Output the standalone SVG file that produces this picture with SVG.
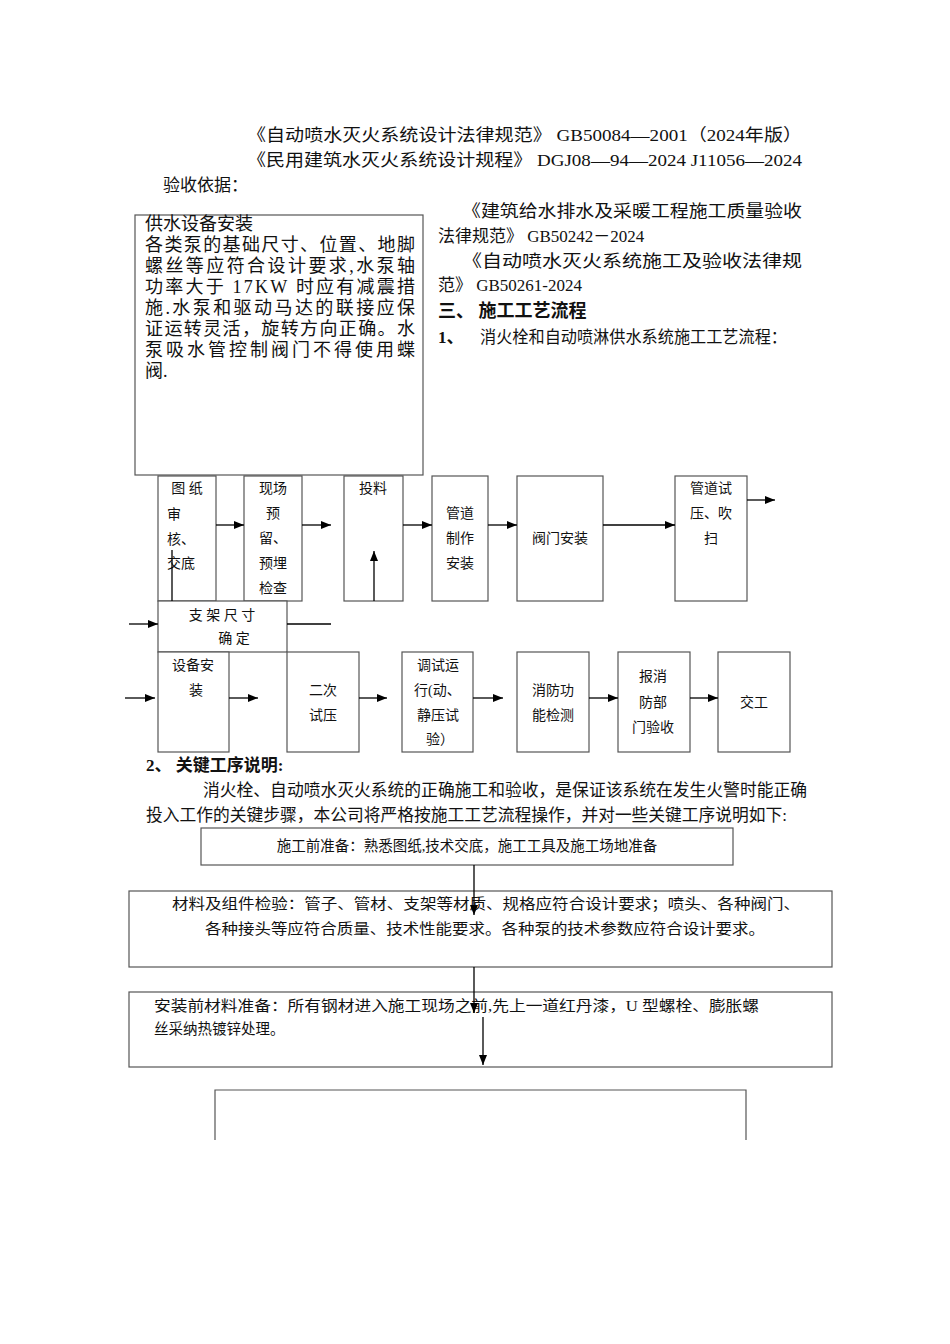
<svg xmlns="http://www.w3.org/2000/svg" width="950" height="1344" viewBox="0 0 950 1344">
<defs>
<marker id="ah" markerWidth="10" markerHeight="8" refX="10" refY="4" orient="auto" markerUnits="userSpaceOnUse"><path d="M0,0 L10,4 L0,8 z" fill="#000"/></marker>
<style>
text{font-family:"Liberation Serif","Noto Sans CJK SC",serif;fill:#111;dominant-baseline:central}
.t{font-size:17px}
.b{font-size:18px}
.s{font-size:14px}
.m{font-size:14.5px}
.bold{font-weight:bold}
.c{text-anchor:middle}
.box{fill:#fff;stroke:#555;stroke-width:1.2}
.ln{stroke:#000;stroke-width:1.3;fill:none}
.ar{stroke:#000;stroke-width:1.3;fill:none;marker-end:url(#ah)}
</style>
</defs>
<rect width="950" height="1344" fill="#fff"/>
<g id="header">
<text class="t" x="247" y="135" textLength="555" lengthAdjust="spacingAndGlyphs">《自动喷水灭火系统设计法律规范》 GB50084—2001（2024年版）</text>
<text class="t" x="247" y="160" textLength="555" lengthAdjust="spacingAndGlyphs">《民用建筑水灭火系统设计规程》 DGJ08—94—2024 J11056—2024</text>
<text class="t" x="163" y="185">验收依据：</text>
<text class="t" x="462" y="211" textLength="340" lengthAdjust="spacingAndGlyphs">《建筑给水排水及采暖工程施工质量验收</text>
<text class="t" x="438" y="236">法律规范》 GB50242－2024</text>
<text class="t" x="462" y="261" textLength="340" lengthAdjust="spacingAndGlyphs">《自动喷水灭火系统施工及验收法律规</text>
<text class="t" x="438" y="285">范》 GB50261-2024</text>
<text class="b bold" x="438" y="311">三、 施工工艺流程</text>
<text class="t bold" x="438" y="337">1、</text>
<text class="t" x="480" y="337" textLength="307" lengthAdjust="spacingAndGlyphs">消火栓和自动喷淋供水系统施工工艺流程：</text>
</g>
<g id="n_supply">
<rect class="box" x="135" y="215" width="288" height="260"/>
<text class="b" x="145" y="224">供水设备安装</text>
<text class="b" x="145" y="245" textLength="270" lengthAdjust="spacing">各类泵的基础尺寸、位置、地脚</text>
<text class="b" x="145" y="266" textLength="270" lengthAdjust="spacing">螺丝等应符合设计要求,水泵轴</text>
<text class="b" x="145" y="287" textLength="270" lengthAdjust="spacing">功率大于 17KW 时应有减震措</text>
<text class="b" x="145" y="308" textLength="270" lengthAdjust="spacing">施.水泵和驱动马达的联接应保</text>
<text class="b" x="145" y="329" textLength="270" lengthAdjust="spacing">证运转灵活，旋转方向正确。水</text>
<text class="b" x="145" y="350" textLength="270" lengthAdjust="spacing">泵吸水管控制阀门不得使用蝶</text>
<text class="b" x="145" y="371">阀.</text>
</g>
<g id="n_tuzhi">
<rect class="box" x="158" y="476" width="58" height="125"/>
<text class="s c" x="187" y="488">图 纸</text>
<text class="s" x="167" y="514">审</text>
<text class="s" x="167" y="539">核、</text>
<text class="s" x="167" y="563">交底</text>
</g>
<g id="n_xianchang">
<rect class="box" x="244" y="476" width="58" height="125"/>
<text class="s c" x="273" y="488">现场</text>
<text class="s c" x="273" y="513">预</text>
<text class="s c" x="273" y="538">留、</text>
<text class="s c" x="273" y="563">预埋</text>
<text class="s c" x="273" y="588">检查</text>
</g>
<g id="n_touliao">
<rect class="box" x="344" y="476" width="59" height="125"/>
<text class="s c" x="373" y="488">投料</text>
</g>
<g id="n_guandao">
<rect class="box" x="432" y="476" width="56" height="125"/>
<text class="s c" x="460" y="513">管道</text>
<text class="s c" x="460" y="538">制作</text>
<text class="s c" x="460" y="563">安装</text>
</g>
<g id="n_famen">
<rect class="box" x="517" y="476" width="86" height="125"/>
<text class="s c" x="560" y="538">阀门安装</text>
</g>
<g id="n_shiya">
<rect class="box" x="675" y="476" width="72" height="125"/>
<text class="s c" x="711" y="488">管道试</text>
<text class="s c" x="711" y="513">压、吹</text>
<text class="s c" x="711" y="538">扫</text>
</g>
<g id="n_zhijia">
<rect class="box" x="158" y="601" width="129" height="51"/>
<text class="s c" x="222" y="615">支 架 尺 寸</text>
<text class="s c" x="234" y="638">确 定</text>
</g>
<g id="n_shebei">
<rect class="box" x="158" y="652" width="71" height="100"/>
<text class="s c" x="193" y="665">设备安</text>
<text class="s c" x="196" y="690">装</text>
</g>
<g id="n_erci">
<rect class="box" x="287" y="652" width="72" height="100"/>
<text class="s c" x="323" y="690">二次</text>
<text class="s c" x="323" y="715">试压</text>
</g>
<g id="n_tiaoshi">
<rect class="box" x="402" y="652" width="71" height="100"/>
<text class="s c" x="438" y="665">调试运</text>
<text class="s" x="414" y="690">行(动、</text>
<text class="s c" x="438" y="715">静压试</text>
<text class="s c" x="440" y="739">验）</text>
</g>
<g id="n_xiaofang">
<rect class="box" x="517" y="652" width="72" height="100"/>
<text class="s c" x="553" y="690">消防功</text>
<text class="s c" x="553" y="715">能检测</text>
</g>
<g id="n_bao">
<rect class="box" x="618" y="652" width="72" height="100"/>
<text class="s c" x="653" y="676">报消</text>
<text class="s c" x="653" y="702">防部</text>
<text class="s c" x="653" y="727">门验收</text>
</g>
<g id="n_jiaogong">
<rect class="box" x="718" y="652" width="72" height="100"/>
<text class="s c" x="754" y="702">交工</text>
</g>
<g id="section2">
<text class="t bold" x="146" y="765">2、 关键工序说明:</text>
<text class="t" x="203" y="790" textLength="604" lengthAdjust="spacingAndGlyphs">消火栓、自动喷水灭火系统的正确施工和验收，是保证该系统在发生火警时能正确</text>
<text class="t" x="146" y="815" textLength="641" lengthAdjust="spacingAndGlyphs">投入工作的关键步骤，本公司将严格按施工工艺流程操作，并对一些关键工序说明如下:</text>
</g>
<g id="n_prep">
<rect class="box" x="201" y="828" width="532" height="37"/>
<text class="m c" x="467" y="846">施工前准备：熟悉图纸,技术交底，施工工具及施工场地准备</text>
</g>
<g id="n_material">
<rect class="box" x="129" y="891" width="703" height="76"/>
<text class="m" x="172" y="904" textLength="628" lengthAdjust="spacingAndGlyphs">材料及组件检验：管子、管材、支架等材质、规格应符合设计要求；喷头、各种阀门、</text>
<text class="m" x="205" y="929" textLength="560" lengthAdjust="spacingAndGlyphs">各种接头等应符合质量、技术性能要求。各种泵的技术参数应符合设计要求。</text>
</g>
<g id="n_install">
<rect class="box" x="129" y="992" width="703" height="75"/>
<text class="m" x="154" y="1006" textLength="605" lengthAdjust="spacingAndGlyphs">安装前材料准备：所有钢材进入施工现场之前,先上一道红丹漆，U 型螺栓、膨胀螺</text>
<text class="m" x="154" y="1029">丝采纳热镀锌处理。</text>
</g>
<g id="n_open">
<polyline class="box" fill="none" points="215,1140 215,1090 746,1090 746,1140"/>
</g>
<g id="connectors">
<line class="ar" x1="216" y1="525" x2="244" y2="525"/>
<line class="ar" x1="302" y1="525" x2="331" y2="525"/>
<line class="ar" x1="403" y1="525" x2="432" y2="525"/>
<line class="ar" x1="488" y1="525" x2="517" y2="525"/>
<line class="ar" x1="603" y1="525" x2="675" y2="525"/>
<line class="ar" x1="747" y1="500" x2="775" y2="500"/>
<line class="ln" x1="172" y1="550" x2="172" y2="601"/>
<line class="ar" x1="374" y1="601" x2="374" y2="551"/>
<line class="ar" x1="129" y1="624" x2="158" y2="624"/>
<line class="ln" x1="287" y1="624" x2="331" y2="624"/>
<line class="ar" x1="125" y1="698" x2="155" y2="698"/>
<line class="ar" x1="229" y1="698" x2="258" y2="698"/>
<line class="ar" x1="359" y1="698" x2="387" y2="698"/>
<line class="ar" x1="473" y1="698" x2="503" y2="698"/>
<line class="ar" x1="589" y1="698" x2="618" y2="698"/>
<line class="ar" x1="690" y1="698" x2="718" y2="698"/>
<line class="ar" x1="474" y1="865" x2="474" y2="915"/>
<line class="ar" x1="474" y1="967" x2="474" y2="1013"/>
<line class="ar" x1="483" y1="1017" x2="483" y2="1065"/>
</g>
</svg>
